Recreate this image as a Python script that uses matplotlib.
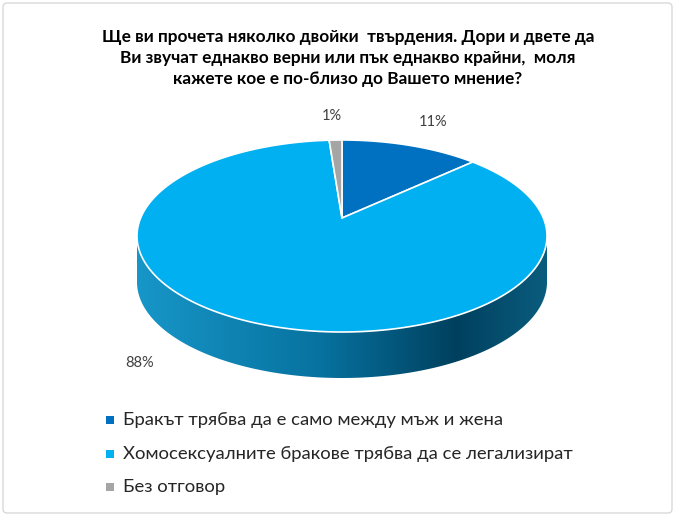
import numpy as np
import matplotlib
matplotlib.use("Agg")
import matplotlib.pyplot as plt
from matplotlib.patches import Polygon, FancyBboxPatch, Rectangle
from matplotlib.colors import LinearSegmentedColormap

title = ("Ще ви прочета няколко двойки  твърдения. Дори и двете да\n"
         "Ви звучат еднакво верни или пък еднакво крайни,  моля\n"
         "кажете кое е по-близо до Вашето мнение?")
categories = ["Бракът трябва да е само между мъж и жена",
              "Хомосексуалните бракове трябва да се легализират",
              "Без отговор"]
values = [11, 88, 1]
labels = ["11%", "88%", "1%"]
colors = ["#0070C0", "#00B0F0", "#A5A5A5"]

plt.rcParams['font.family'] = ['Lato', 'Open Sans', 'DejaVu Sans']

W, H = 676, 518
fig = plt.figure(figsize=(W / 100, H / 100), dpi=100)
ax = fig.add_axes([0, 0, 1, 1])
ax.set_xlim(0, W)
ax.set_ylim(H, 0)
ax.axis('off')

# border
ax.add_patch(FancyBboxPatch((3, 3), W - 7, H - 8, boxstyle="round,pad=0,rounding_size=4",
                            fill=False, ec="#D9D9D9", lw=1.0))

cx, cy, a, b, depth = 342, 236, 205, 96, 46

def pt(theta_deg, dy=0.0):
    t = np.deg2rad(theta_deg)
    return cx + a * np.cos(t), cy - b * np.sin(t) + dy

# side wall (front half)
th = np.linspace(180, 360, 200)
top = np.array([pt(t) for t in th])
bot = np.array([pt(t, depth) for t in th[::-1]])
side = np.vstack([top, bot])
side_patch = Polygon(side, closed=True, fc='none', ec='none')
ax.add_patch(side_patch)
cmap = LinearSegmentedColormap.from_list(
    "side", [(0.0, "#1796C8"), (0.45, "#07729F"), (0.78, "#00405E"), (1.0, "#0A5C7E")])
grad = np.linspace(0, 1, 256).reshape(1, -1)
im = ax.imshow(grad, cmap=cmap, extent=(cx - a, cx + a, cy + b + depth + 2, cy - 2),
               aspect='auto', zorder=1)
im.set_clip_path(side_patch)
ax.set_xlim(0, W)
ax.set_ylim(H, 0)

# top wedges: start at 12 o'clock, clockwise
total = sum(values)
start = 90.0
for v, c in zip(values, colors):
    sweep = 360.0 * v / total
    ts = np.linspace(start, start - sweep, max(3, int(sweep * 2)))
    arc = np.array([pt(t) for t in ts])
    poly = np.vstack([[cx, cy - 18], arc])
    ax.add_patch(Polygon(poly, closed=True, fc=c, ec='white', lw=1.2, zorder=3,
                         joinstyle='round'))
    start -= sweep

# data labels
label_pos = [(433, 122), (140, 363), (332, 116)]
for lab, (x, y) in zip(labels, label_pos):
    ax.text(x, y, lab, fontsize=10.5, color="#404040", ha='center', va='center', zorder=5)

# title
ax.text(348, 58, title, fontsize=12.4, fontweight='bold', color='black',
        ha='center', va='center', linespacing=1.35)

# legend
leg_y = [420, 454, 487]
for cat, c, y in zip(categories, colors, leg_y):
    ax.add_patch(Rectangle((106, y - 4), 8, 8, fc=c, ec='none'))
    ax.text(123, y, cat, fontsize=13.3, color='#262626', ha='left', va='center')

fig.savefig("out.png", dpi=100)
